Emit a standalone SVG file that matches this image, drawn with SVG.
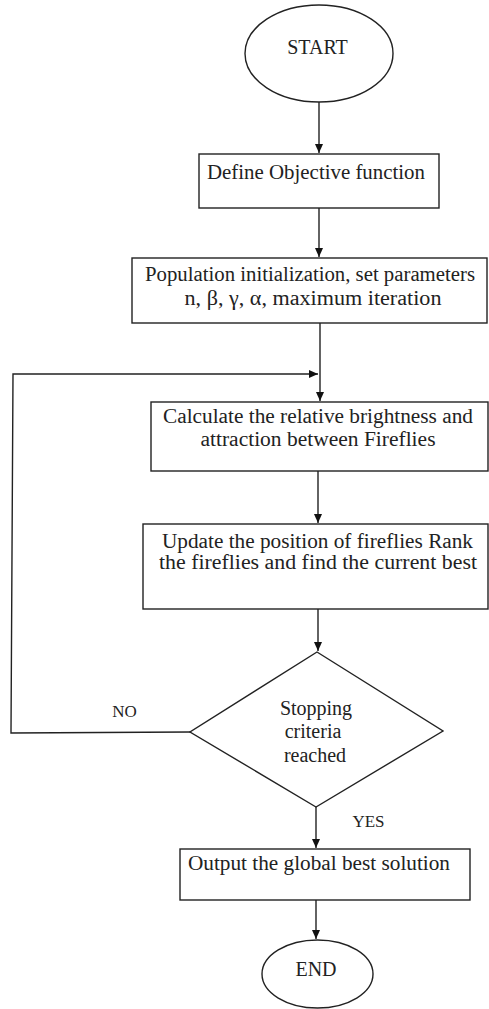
<svg xmlns="http://www.w3.org/2000/svg" width="489" height="1009" viewBox="0 0 489 1009">
<style>
.s{fill:#fff;stroke:#222;stroke-width:1.4}
.c{fill:none;stroke:#222;stroke-width:1.4}
text{font-family:"Liberation Serif","Times New Roman",serif;font-size:20px;fill:#222;text-anchor:middle}
.l{font-size:17px}
</style>
<defs>
<marker id="ah" markerWidth="10" markerHeight="12" refX="9" refY="5" orient="auto" markerUnits="userSpaceOnUse">
<path d="M0,1 L9,5 L0,9 Z" fill="#111"/>
</marker>
</defs>
<rect width="489" height="1009" fill="#fff"/>
<g id="connectors">
<line class="c" x1="319" y1="102" x2="319" y2="153" marker-end="url(#ah)"/>
<line class="c" x1="319" y1="208" x2="319" y2="257" marker-end="url(#ah)"/>
<line class="c" x1="320" y1="323" x2="320" y2="401" marker-end="url(#ah)"/>
<polyline class="c" points="190,732 11,733 13,374 318,374" marker-end="url(#ah)"/>
<line class="c" x1="318" y1="471" x2="318" y2="523" marker-end="url(#ah)"/>
<line class="c" x1="318" y1="609" x2="318" y2="651" marker-end="url(#ah)"/>
<line class="c" x1="316" y1="807" x2="316" y2="848" marker-end="url(#ah)"/>
<line class="c" x1="316" y1="900" x2="316" y2="939" marker-end="url(#ah)"/>
<text x="124.5" y="717" class="l">NO</text>
<text x="368.5" y="827" class="l">YES</text>
</g>
<g id="start">
<ellipse class="s" cx="319" cy="53.5" rx="74" ry="48.5"/>
<text x="317.5" y="54">START</text>
</g>
<g id="define">
<rect class="s" x="199" y="154" width="240" height="54"/>
<text x="316" y="179" textLength="218" lengthAdjust="spacingAndGlyphs">Define Objective function</text>
</g>
<g id="init">
<rect class="s" x="132" y="258" width="355" height="65"/>
<text x="310" y="281" textLength="330" lengthAdjust="spacingAndGlyphs">Population initialization, set parameters</text>
<text x="313" y="305" textLength="257" lengthAdjust="spacingAndGlyphs">n, β, γ, α, maximum iteration</text>
</g>
<g id="calc">
<rect class="s" x="151" y="402" width="337" height="69"/>
<text x="318" y="423" textLength="310" lengthAdjust="spacingAndGlyphs">Calculate the relative brightness and</text>
<text x="318" y="446" textLength="235" lengthAdjust="spacingAndGlyphs">attraction between Fireflies</text>
</g>
<g id="update">
<rect class="s" x="143" y="524" width="345" height="85"/>
<text x="317.5" y="548" textLength="311" lengthAdjust="spacingAndGlyphs">Update the position of fireflies Rank</text>
<text x="318" y="569" textLength="318" lengthAdjust="spacingAndGlyphs">the fireflies and find the current best</text>
</g>
<g id="decision">
<polygon class="s" points="317,652 443,731 316,807 190,732"/>
<text x="316" y="715">Stopping</text>
<text x="313" y="738">criteria</text>
<text x="315" y="762">reached</text>
</g>
<g id="output">
<rect class="s" x="180" y="849" width="290" height="51"/>
<text x="319" y="870" textLength="262" lengthAdjust="spacingAndGlyphs">Output the global best solution</text>
</g>
<g id="end">
<ellipse class="s" cx="317.5" cy="974" rx="55.5" ry="34"/>
<text x="316" y="976">END</text>
</g>
</svg>
